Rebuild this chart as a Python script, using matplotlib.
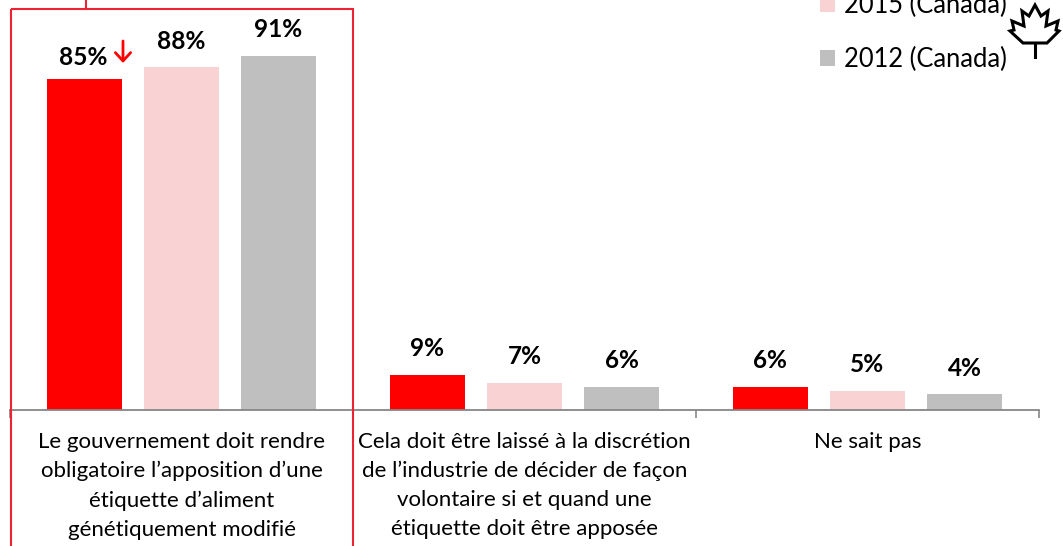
import matplotlib
matplotlib.use("Agg")
import matplotlib.pyplot as plt
from matplotlib.patches import Polygon, Rectangle

plt.rcParams['font.family'] = ['Lato', 'DejaVu Sans']

categories = [
    "Le gouvernement doit rendre\nobligatoire l’apposition d’une\nétiquette d’aliment\ngénétiquement modifié",
    "Cela doit être laissé à la discrétion\nde l’industrie de décider de façon\nvolontaire si et quand une\nétiquette doit être apposée",
    "Ne sait pas",
]
values_latest = [85, 9, 6]
values_2015 = [88, 7, 5]
values_2012 = [91, 6, 4]
labels = ["_latest", "2015 (Canada)", "2012 (Canada)"]
colors = ["#ff0000", "#f9d2d4", "#bfbfbf"]

W, H = 1063, 546
fig = plt.figure(figsize=(W / 100, H / 100), dpi=100)
ax = fig.add_axes([10 / W, (H - 410) / H, 1029 / W, 410 / H])

width = 0.2187
step = 0.2828
xs = range(len(categories))
series = [values_latest, values_2015, values_2012]
bars = []
for i, vals in enumerate(series):
    b = ax.bar([x + (i - 1) * step for x in xs], vals, width, color=colors[i], label=labels[i])
    texts = ax.bar_label(b, labels=[f"{v}%" for v in vals], padding=10.5, fontsize=17.6, fontweight='bold')
    bars.append(b)
    if i == 0:
        # the 85% label sits lower and a bit left, next to the arrow
        texts[0].xyann = (-1, 7)

ax.set_xlim(-0.5, 2.5)
ax.set_ylim(0, 105.3)
ax.set_yticks([])
for s in ['top', 'left', 'right']:
    ax.spines[s].set_visible(False)
ax.spines['bottom'].set_color('#868686')
ax.spines['bottom'].set_linewidth(1.3)
ax.set_xticks(list(xs))
ax.set_xticklabels(categories, fontsize=16, linespacing=1.56)
ax.tick_params(axis='x', which='major', length=0, pad=15.5)
ax.set_xticks([-0.5, 0.5, 1.5, 2.5], minor=True)
ax.tick_params(axis='x', which='minor', length=6, color='#868686', width=1.2)

# overlay in pixel coordinates for the annotations
ov = fig.add_axes([0, 0, 1, 1])
ov.set_xlim(0, W)
ov.set_ylim(H, 0)
ov.axis('off')
ov.patch.set_alpha(0)

red = '#ee2233'
ov.add_patch(Rectangle((11, 8.5), 342, 560, fill=False, edgecolor=red, linewidth=1.5))
ov.plot([86, 86], [0, 8.5], color=red, linewidth=1.5)
ov.annotate("", xy=(123, 63), xytext=(123, 41),
            arrowprops=dict(arrowstyle='->,head_width=0.55,head_length=0.6', color='#ff0000', lw=2, shrinkA=0, shrinkB=0))

leaf = [(1035, 5), (1041, 16), (1048, 11), (1046, 26), (1058, 21), (1056, 30), (1059, 31),
        (1047, 43), (1023, 43), (1010, 31), (1014, 30), (1012, 21), (1024, 26), (1022, 11), (1029, 16)]
ov.add_patch(Polygon(leaf, closed=True, fill=False, edgecolor='black', linewidth=2.2))
ov.plot([1035, 1035], [43, 57], color='black', linewidth=2.2)

handles = [bars[1], bars[2]]
ov.legend(handles, labels[1:], loc='upper left', bbox_to_anchor=(820 / W, (H + 7) / H),
          frameon=False, fontsize=18.4, handlelength=0.59, handleheight=0.59, handletextpad=0.35,
          labelspacing=1.12, borderaxespad=0, borderpad=0)

fig.savefig("out.png", dpi=100)
